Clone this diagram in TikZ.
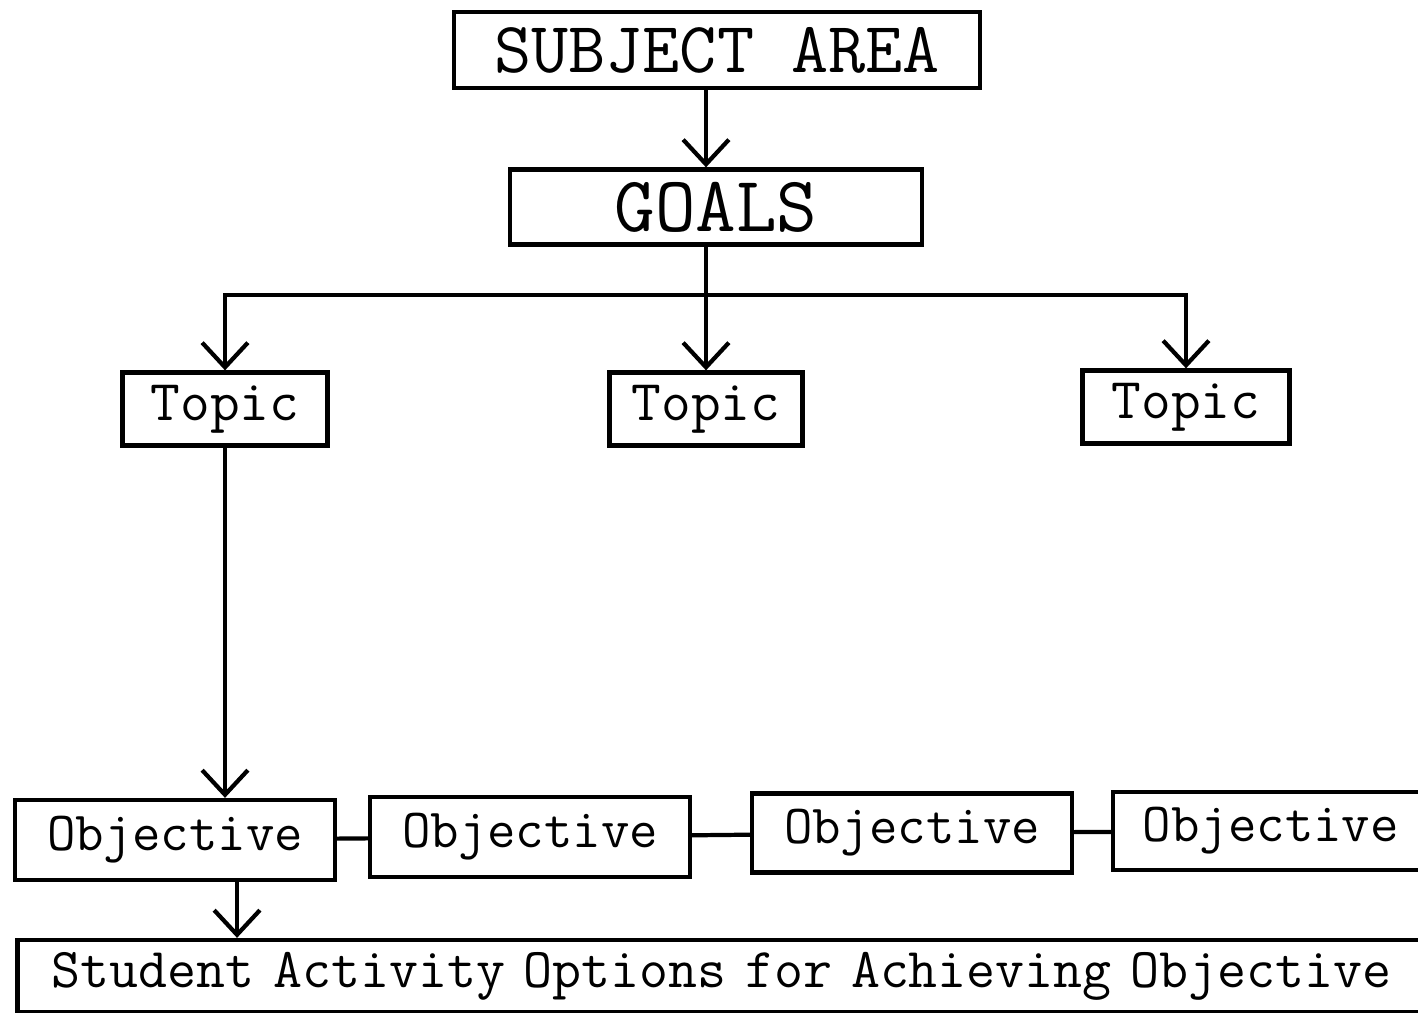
\documentclass[tikz,border=0pt]{standalone}
\usepackage{tikz}
\usetikzlibrary{positioning, arrows.meta}

\begin{document}
\begin{tikzpicture}[x=0.01cm, y=-0.01cm,
  box/.style={draw, line width=1.2pt, inner sep=0pt, font=\ttfamily},
  arr/.style={-{Straight Barb[length=7pt, width=13pt, line width=1.2pt]}, line width=1.2pt},
  lnk/.style={line width=1.2pt}]
\clip (0,0) rectangle (1418,1013);
\node[box, minimum width=5.25cm, minimum height=0.76cm, font=\ttfamily\fontsize{20.5}{24}\selectfont] (subj) at (717,50) {SUBJECT AREA};
\node[box, minimum width=4.12cm, minimum height=0.75cm, font=\ttfamily\fontsize{22.4}{26}\selectfont] (goals) at (716,207) {GOALS};
\node[box, minimum width=2.05cm, minimum height=0.73cm, font=\ttfamily\fontsize{16.4}{19}\selectfont] (topicA) at (225,409) {Topic};
\node[box, minimum width=1.93cm, minimum height=0.73cm, font=\ttfamily\fontsize{16.4}{19}\selectfont] (topicB) at (706,409) {Topic};
\node[box, minimum width=2.07cm, minimum height=0.73cm, font=\ttfamily\fontsize{16.4}{19}\selectfont] (topicC) at (1186,407) {Topic};
\node[box, minimum width=3.2cm, minimum height=0.8cm, font=\ttfamily\fontsize{15.7}{18}\selectfont] (objA) at (175,840) {Objective};
\node[box, minimum width=3.2cm, minimum height=0.8cm, font=\ttfamily\fontsize{15.7}{18}\selectfont] (objB) at (530,837) {Objective};
\node[box, minimum width=3.2cm, minimum height=0.79cm, font=\ttfamily\fontsize{15.7}{18}\selectfont] (objC) at (912,833) {Objective};
\node[box, minimum width=3.3cm, minimum height=0.78cm, font=\ttfamily\fontsize{15.7}{18}\selectfont, text width=3.3cm, align=left] (objD) at (1278,831) {\hspace*{0.3cm}Objective};
\node[box, minimum width=14.1cm, minimum height=0.72cm, font=\ttfamily\fontsize{16}{19}\selectfont, text width=14.1cm, align=left] (stud) at (723,976) {\hspace*{0.34cm}Student Activity Options for Achieving Objective};
\coordinate (fork) at (706,295);
\draw[lnk] (goals.south -| fork) -- (fork);
\draw[arr] (subj.south -| fork) -- (goals.north -| fork);
\draw[arr] (fork) -| (topicA);
\draw[arr] (fork) -- (topicB);
\draw[arr] (fork) -| (topicC);
\draw[arr] (topicA) -- (topicA |- objA.north);
\draw[lnk] (objA) -- (objB);
\draw[lnk] (objB) -- (objC);
\draw[lnk] (objC) -- (objD);
\draw[arr] ([xshift=0.62cm]objA.south) -- ([xshift=0.62cm]objA.south |- stud.north);
\end{tikzpicture}
\end{document}
